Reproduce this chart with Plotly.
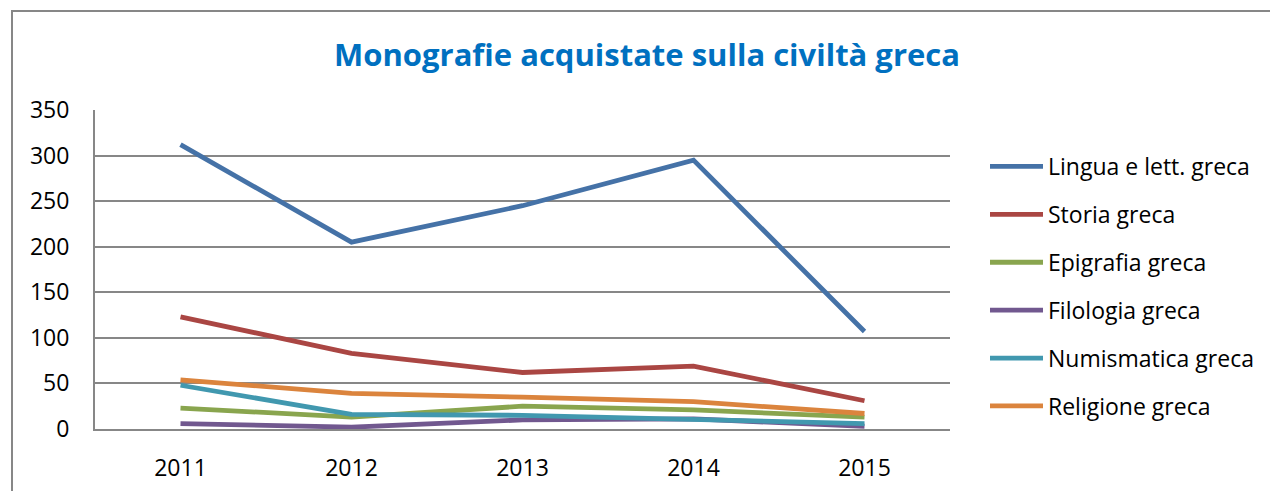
import plotly.graph_objects as go

years = ["2011", "2012", "2013", "2014", "2015"]
lingua = [312, 205, 245, 295, 107]
storia = [123, 83, 62, 69, 31]
epigrafia = [23, 13, 25, 21, 13]
filologia = [6, 2, 10, 11, 3]
numismatica = [48, 16, 15, 11, 6]
religione = [54, 39, 35, 30, 17]

names = ["Lingua e lett. greca", "Storia greca", "Epigrafia greca",
         "Filologia greca", "Numismatica greca", "Religione greca"]
series = [lingua, storia, epigrafia, filologia, numismatica, religione]
colors = ["#4572A7", "#AA4643", "#89A54E", "#71588F", "#4198AF", "#DB843D"]

FONT = "Open Sans"
W, H = 1270, 491
L, R, T, B = 95, 950, 110, 429

fig = go.Figure()
for i, (n, s, c) in enumerate(zip(names, series, colors)):
    fig.add_trace(go.Scatter(x=years, y=s, name=n, mode="lines",
                             line=dict(color=c, width=4.8),
                             legendgroup=str(i)))

def px_to_paper_x(px):
    return (px - L) / (R - L)

def px_to_paper_y(py):
    return (B - py) / (B - T)

fig.add_shape(type="rect", xref="paper", yref="paper",
              x0=px_to_paper_x(12), x1=px_to_paper_x(1290),
              y0=px_to_paper_y(510), y1=px_to_paper_y(11),
              line=dict(color="#878787", width=2), layer="below")

fig.update_layout(
    width=W, height=H,
    margin=dict(l=L, r=W - R, t=T, b=H - B, pad=0, autoexpand=False),
    paper_bgcolor="white", plot_bgcolor="white",
    title=dict(text="<b>Monografie acquistate sulla civiltà greca</b>",
               x=647 / W, xanchor="center", y=1 - 55 / H, yanchor="middle",
               font=dict(family=FONT, size=31, color="#0070C0")),
    legend=dict(x=px_to_paper_x(985), xanchor="left",
                y=px_to_paper_y(145), yanchor="top",
                font=dict(family=FONT, size=23, color="#000000"),
                tracegroupgap=15, itemwidth=53, bgcolor="rgba(0,0,0,0)",
                maxheight=1),
    xaxis=dict(type="category", range=[-0.5, 4.5], showgrid=False,
               showline=True, linecolor="#878787", linewidth=2,
               ticks="", tickfont=dict(family=FONT, size=23, color="#000"),
               ticklabelstandoff=17, automargin=False),
    yaxis=dict(range=[0, 350], tickvals=[0, 50, 100, 150, 200, 250, 300, 350],
               showgrid=True, gridcolor="#878787", gridwidth=1.5,
               showline=True, linecolor="#878787", linewidth=2,
               zeroline=False, ticks="",
               tickfont=dict(family=FONT, size=23, color="#000"),
               ticklabelstandoff=19, automargin=False),
    showlegend=True,
)
fig.write_html("out.html", config={"displayModeBar": False},
               post_script="document.body.style.margin='0';")
